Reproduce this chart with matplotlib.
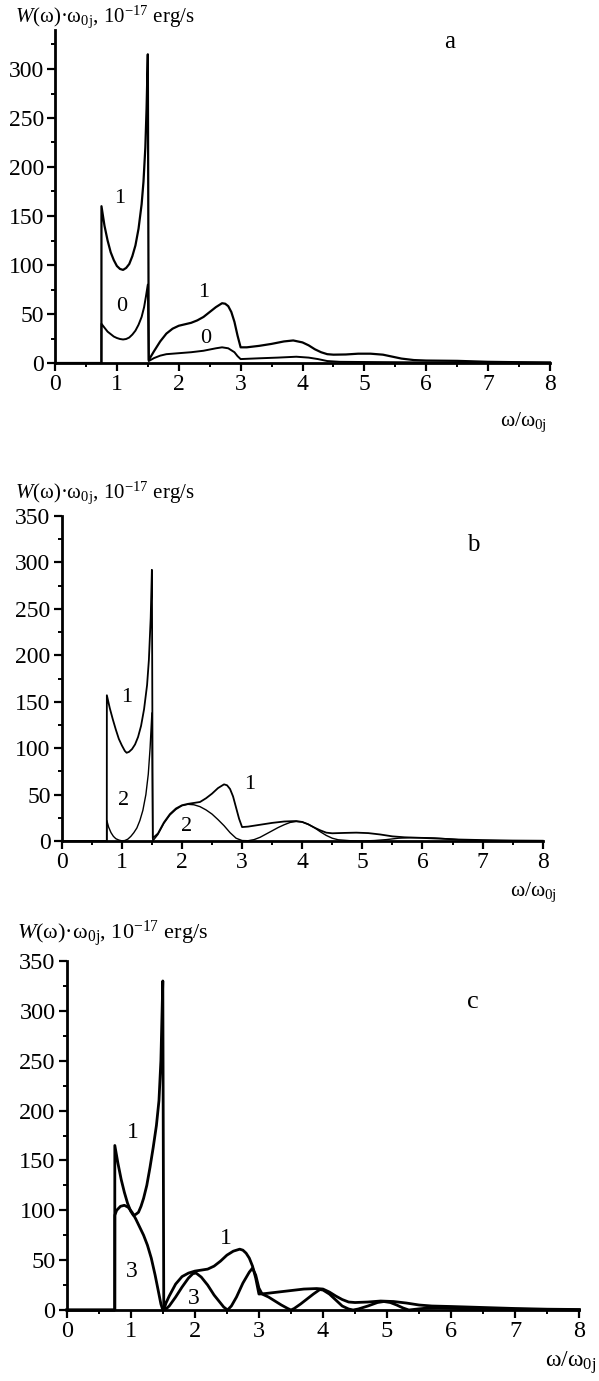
import matplotlib
matplotlib.use("Agg")
import matplotlib.pyplot as plt
from matplotlib.ticker import MultipleLocator

plt.rcParams['font.family'] = ['Liberation Serif', 'DejaVu Serif']
plt.rcParams['mathtext.fontset'] = 'custom'
plt.rcParams['mathtext.rm'] = 'Liberation Serif'
plt.rcParams['mathtext.it'] = 'Liberation Serif:italic'

# panel a, curve 1
xa1 = [0, 0.75, 0.751, 0.8, 0.85, 0.9, 0.95, 1.0, 1.05, 1.1, 1.15, 1.2, 1.25, 1.3,
       1.35, 1.4, 1.43, 1.46, 1.48, 1.5, 1.515,
       1.6, 1.7, 1.8, 1.9, 2.0, 2.1, 2.2, 2.3, 2.4, 2.5, 2.6, 2.7, 2.75, 2.8, 2.85,
       2.9, 2.95, 3.0, 3.1, 3.3, 3.5, 3.7, 3.85, 4.0, 4.1, 4.2, 4.3, 4.4, 4.5, 4.7,
       4.9, 5.1, 5.3, 5.45, 5.6, 5.8, 6.0, 6.5, 7.0, 7.5, 8]
ya1 = [0, 0, 160, 140, 125, 113, 105, 99, 96, 95, 97, 101, 109, 120,
       137, 162, 185, 220, 260, 315, 3,
       12, 22, 30, 35, 38, 39.5, 41, 43.5, 47, 52, 57, 61, 60.5, 58, 52,
       42, 28, 16, 16, 17.5, 19.5, 22, 23, 21, 18, 14, 11, 9, 8.5, 8.7,
       9.5, 9.5, 8.5, 6.5, 4.5, 3, 2.5, 2.2, 1.2, 0.8, 0.5]
# panel a, curve 0
xa0 = [0, 0.75, 0.751, 0.8, 0.85, 0.9, 0.95, 1.0, 1.05, 1.1, 1.15, 1.2, 1.25, 1.3,
       1.35, 1.4, 1.44, 1.47, 1.5, 1.515,
       1.6, 1.7, 1.8, 2.0, 2.2, 2.4, 2.6, 2.7, 2.8, 2.9, 2.95, 3.0, 3.3, 3.6, 3.9,
       4.1, 4.25, 4.4, 4.6, 5.0, 5.5, 6.0, 8]
ya0 = [0, 0, 40, 36, 32, 29.5, 27, 25.5, 24.5, 24, 24.5, 26, 29, 33,
       39, 47, 57, 68, 80, 2,
       5, 7.5, 9, 10, 11, 12.5, 15, 16, 15, 11, 7, 4, 4.8, 5.5, 6.4,
       5.5, 4, 2, 1.2, 1, 0.8, 0.6, 0.3]

# panel b, curve 1
xb1 = [0, 0.75, 0.751, 0.8, 0.85, 0.9, 0.95, 1.0, 1.05, 1.08, 1.12, 1.17, 1.22,
       1.27, 1.32, 1.37, 1.42, 1.45, 1.48, 1.5, 1.515,
       1.6, 1.7, 1.8, 1.9, 2.0, 2.1, 2.2, 2.3, 2.4, 2.5, 2.6, 2.7, 2.75, 2.8, 2.85,
       2.9, 2.95, 3.0, 3.1, 3.3, 3.5, 3.7, 3.9, 4.0, 4.1, 4.2, 4.3, 4.4, 4.5, 4.7,
       4.9, 5.1, 5.3, 5.5, 5.7, 6.0, 6.3, 6.6, 7.0, 7.5, 8]
yb1 = [0, 0, 157, 143, 131, 120, 110, 103, 97, 95, 96, 99, 104,
       112, 124, 142, 168, 195, 240, 292, 3,
       8, 20, 29, 35, 38.5, 40, 41, 42, 46, 51, 57, 61, 60, 56, 48,
       36, 24, 15, 15.5, 17.5, 19.5, 21, 21.5, 20.5, 18, 14.5, 11.5, 9, 8.3, 8.7,
       9, 8.5, 7, 5, 4, 3.3, 2.5, 1.6, 1, 0.5, 0.3]
# panel b, curve 2
xb2 = [0, 0.75, 0.751, 0.78, 0.82, 0.86, 0.9, 0.95, 1.0, 1.05, 1.1, 1.15, 1.2,
       1.25, 1.3, 1.35, 1.4, 1.44, 1.47, 1.5, 1.515,
       1.6, 1.7, 1.8, 1.9, 2.0, 2.1, 2.2, 2.3, 2.4, 2.5, 2.6, 2.7, 2.8, 2.9, 3.0,
       3.1, 3.2, 3.3, 3.4, 3.5, 3.6, 3.7, 3.8, 3.9, 4.0, 4.1, 4.2, 4.3, 4.4, 4.5,
       4.6, 4.8, 5.0, 5.2, 5.4, 5.6, 5.8, 6.0, 6.2, 6.4, 6.6, 6.8, 7.0, 7.5, 8]
yb2 = [0, 0, 22, 15, 9, 5, 2.5, 1, 0.2, 0.5, 2, 5, 9,
       14, 22, 33, 50, 72, 100, 138, 0,
       7, 19, 28, 34, 38, 39.5, 39, 37, 33.5, 29, 23, 16.5, 9, 3, 0.5,
       0.3, 1.5, 4, 7.5, 11, 14.5, 17.5, 20, 21, 20.5, 18, 14.5, 10, 6, 3,
       1.3, 0.3, 0, 0.5, 1.5, 3, 3.6, 3.6, 3.2, 2.4, 1.4, 0.8, 0.5, 0.2, 0]

# panel c, curve 1
xc1 = [0, 0.75, 0.751, 0.8, 0.85, 0.9, 0.95, 1.0, 1.04, 1.08, 1.12, 1.16, 1.2,
       1.25, 1.3, 1.35, 1.4, 1.44, 1.47, 1.5, 1.515,
       1.55, 1.6, 1.7, 1.8, 1.9, 2.0, 2.1, 2.2, 2.3, 2.4, 2.5, 2.6, 2.7, 2.75, 2.8,
       2.85, 2.9, 2.95, 3.0, 3.1, 3.3, 3.5, 3.7, 3.9, 4.0, 4.1, 4.2, 4.3, 4.4, 4.5,
       4.7, 4.9, 5.1, 5.3, 5.5, 5.7, 6.0, 6.5, 7.0, 7.5, 8]
yc1 = [0, 0, 165, 147, 131, 118, 107, 99, 95, 96, 98, 104, 112,
       125, 143, 163, 185, 210, 250, 330, 0,
       7, 14, 26, 33.5, 37, 39, 40, 41, 44, 49, 55, 59, 61, 60, 57,
       52, 44, 32, 16, 16.5, 18, 19.5, 21, 21.5, 21, 18, 14, 10.5, 8, 7.5,
       8, 9, 8.5, 7, 5, 4, 3.5, 2.5, 1.5, 0.8, 0.5]
# panel c, curve 3
xc3 = [0, 0.75, 0.751, 0.78, 0.84, 0.9, 0.96, 1.02, 1.08, 1.14, 1.2, 1.26, 1.32,
       1.38, 1.43, 1.47, 1.5,
       1.55, 1.6, 1.7, 1.8, 1.9, 1.97, 2.02, 2.1, 2.2, 2.3, 2.4, 2.45, 2.51, 2.57,
       2.65, 2.75, 2.85, 2.9, 2.95, 3.0, 3.05, 3.15, 3.25, 3.35, 3.45, 3.5, 3.55,
       3.65, 3.75, 3.85, 3.95, 4.0, 4.1, 4.2, 4.3, 4.4, 4.47, 4.55, 4.7, 4.85,
       4.95, 5.05, 5.15, 5.25, 5.34, 5.45, 5.6, 5.8, 6.0, 6.2, 6.5, 7.0, 7.5, 8]
yc3 = [0, 0, 95, 100, 104, 105, 103, 98, 91, 83, 75, 65, 52,
       35, 19, 6, 0,
       1, 4, 13, 23, 32, 36.5, 37, 33, 25, 15, 7, 3, 0, 4,
       13, 27, 38, 42, 35, 22, 16, 13, 9, 5, 1.5, 0, 1.5,
       6, 11, 16, 20.5, 20, 16, 10, 4, 1, 0, 1, 4, 7.5,
       8.5, 7.5, 5, 2, 0, 0.8, 1.8, 2.3, 1.8, 1.2, 1.5, 0.8, 0.4, 0]

W, H = 599, 1381
fig = plt.figure(figsize=(W / 100, H / 100), dpi=100)

ylabel = r'$W$(ω)·ω$_{\mathrm{0j}}$, 10$^{\mathrm{-17}}$ erg/s'
xlabel = r'ω/ω$_{\mathrm{0j}}$'


def make_axes(left, right, y0, ytop, ymax, fs):
    ax = fig.add_axes([left / W, 1 - y0 / H, (right - left) / W, (y0 - ytop) / H])
    ax.set_xlim(0, 8)
    ax.set_ylim(0, ymax)
    for s in ['top', 'right']:
        ax.spines[s].set_visible(False)
    for s in ['left', 'bottom']:
        ax.spines[s].set_linewidth(2)
    ax.xaxis.set_major_locator(MultipleLocator(1))
    ax.xaxis.set_minor_locator(MultipleLocator(0.5))
    ax.yaxis.set_major_locator(MultipleLocator(50))
    ax.yaxis.set_minor_locator(MultipleLocator(25))
    ax.tick_params(which='major', direction='out', length=6, width=1.6,
                   labelsize=fs, pad=2)
    ax.tick_params(which='minor', direction='out', length=3, width=1.4)
    return ax


# panel a
ax = make_axes(55, 550, 363, 29.8, 340, 17)
ax.plot(xa1, ya1, color='black', lw=1.6, clip_on=False)
ax.plot(xa0, ya0, color='black', lw=1.4, clip_on=False)
for x, y, t in [(1.05, 168, '1'), (1.08, 58, '0'), (2.41, 72, '1'), (2.44, 25, '0')]:
    ax.text(x, y, t, fontsize=16, ha='center', va='center')
fig.text(15 / W, 1 - 17 / H, ylabel, fontsize=15, ha='left', va='center')
fig.text(450 / W, 1 - 42 / H, 'a', fontsize=18, ha='center', va='center')
fig.text(500 / W, 1 - 422 / H, xlabel, fontsize=15.5, ha='left', va='center')

# panel b
ax = make_axes(61.7, 542.7, 841, 516, 350, 17)
ax.plot(xb1, yb1, color='black', lw=1.3, clip_on=False)
ax.plot(xb2, yb2, color='black', lw=1.0, clip_on=False)
for x, y, t in [(1.08, 154, '1'), (1.03, 44, '2'), (3.13, 61, '1'), (2.08, 16, '2')]:
    ax.text(x, y, t, fontsize=16, ha='center', va='center')
fig.text(15 / W, 1 - 493 / H, ylabel, fontsize=15, ha='left', va='center')
fig.text(473 / W, 1 - 545 / H, 'b', fontsize=18, ha='center', va='center')
fig.text(510 / W, 1 - 892 / H, xlabel, fontsize=15.5, ha='left', va='center')

# panel c
ax = make_axes(66.7, 579.3, 1310, 961, 350, 17.5)
ax.plot(xc1, yc1, color='black', lw=2.0, clip_on=False)
ax.plot(xc3, yc3, color='black', lw=2.0, clip_on=False)
for x, y, t in [(1.04, 178, '1'), (1.01, 39, '3'), (2.48, 72, '1'), (1.98, 12, '3')]:
    ax.text(x, y, t, fontsize=17, ha='center', va='center')
fig.text(17 / W, 1 - 934 / H, ylabel, fontsize=16, ha='left', va='center')
fig.text(473 / W, 1 - 1002 / H, 'c', fontsize=19, ha='center', va='center')
fig.text(545 / W, 1 - 1363 / H, xlabel, fontsize=17, ha='left', va='center')

fig.savefig('out.png', dpi=100)
